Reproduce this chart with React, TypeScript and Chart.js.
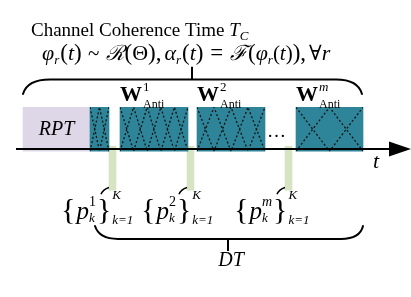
import { useEffect, useRef } from 'react';
import { Chart, registerables } from 'chart.js';
Chart.register(...registerables);

// Time slots along the coherence interval (time units)
const blockNames = ['RPT', 'Pilot', 'W1', 'W2', 'Wm'];
const blockStart = [23, 90, 120, 197, 296];
const blockEnd = [90, 109, 188, 265, 363];
const blockRow = [126, 126, 126, 126, 126];
const hatchHalfPeriod = [0, 9.5, 13.6, 17, 33.5];
const wSuperscripts = ['1', '2', 'm'];
const wBlockIndex = [2, 3, 4];
// Data transmission markers
const dtStart = [109, 187, 285];
const dtEnd = [116, 194, 292];
const dtRow = [171.5, 171.5, 171.5];

const TEAL = 'rgb(46,132,152)';
const LAVENDER = 'rgb(221,215,231)';
const GREEN = 'rgb(214,228,196)';
const SERIF = "'Liberation Serif', 'DejaVu Serif', serif";
const R = (s: number) => `${s}px ${SERIF}`;
const I = (s: number) => `italic ${s}px ${SERIF}`;
const B = (s: number) => `bold ${s}px ${SERIF}`;

type Run = { t?: string; f?: string; dy?: number; dx?: number; sup?: Run; sub?: Run };

function drawRuns(ctx: CanvasRenderingContext2D, x: number, y: number, runs: Run[]) {
  let cx = x;
  for (const r of runs) {
    cx += r.dx || 0;
    if (r.sup || r.sub) {
      let w = 0;
      for (const p of [r.sup, r.sub]) {
        if (!p) continue;
        ctx.font = p.f!;
        ctx.fillText(p.t!, cx + (p.dx || 0), y + (p.dy || 0));
        w = Math.max(w, ctx.measureText(p.t!).width + (p.dx || 0));
      }
      cx += w;
    } else {
      ctx.font = r.f!;
      ctx.fillText(r.t!, cx, y + (r.dy || 0));
      cx += ctx.measureText(r.t!).width;
    }
  }
  return cx;
}

const diagramPlugin = {
  id: 'diagram',
  afterDatasetsDraw(chart: any) {
    const ctx: CanvasRenderingContext2D = chart.ctx;
    const xs = chart.scales.x;
    const ys = chart.scales.y;
    const px = (v: number) => xs.getPixelForValue(v);
    const py = (v: number) => ys.getPixelForValue(v);
    ctx.save();
    ctx.fillStyle = '#000';
    ctx.strokeStyle = '#000';
    ctx.textBaseline = 'alphabetic';

    // hatching on the blocks
    const meta = chart.getDatasetMeta(0);
    meta.data.forEach((el: any, i: number) => {
      const h = hatchHalfPeriod[i];
      if (!h) return;
      const p = el.getProps(['x', 'base', 'y', 'height'], true);
      const x0 = Math.min(p.x, p.base), x1 = Math.max(p.x, p.base);
      const yT = p.y - p.height / 2, yB = p.y + p.height / 2;
      const hp = px(blockStart[i] + h) - px(blockStart[i]);
      ctx.save();
      ctx.beginPath();
      ctx.rect(x0, yT, x1 - x0, yB - yT);
      ctx.clip();
      ctx.setLineDash([2, 2.2]);
      ctx.lineWidth = 1.3;
      ctx.strokeStyle = '#111';
      for (const phase of [0, 1]) {
        ctx.beginPath();
        let k = 0;
        for (let xx = x0; xx <= x1 + hp; xx += hp, k++) {
          const yy = (k + phase) % 2 === 0 ? yT : yB;
          if (k === 0) ctx.moveTo(xx, yy); else ctx.lineTo(xx, yy);
        }
        ctx.stroke();
      }
      ctx.restore();
    });

    // time axis with arrow
    const axisY = py(149);
    ctx.lineWidth = 2;
    ctx.beginPath();
    ctx.moveTo(px(16), axisY);
    ctx.lineTo(px(395), axisY);
    ctx.stroke();
    ctx.beginPath();
    ctx.moveTo(px(411), axisY);
    ctx.lineTo(px(389), axisY - 7.5);
    ctx.lineTo(px(389), axisY + 7.5);
    ctx.closePath();
    ctx.fill();

    // top brace
    ctx.lineWidth = 2;
    ctx.lineCap = 'round';
    ctx.beginPath();
    ctx.moveTo(px(23), py(85));
    ctx.quadraticCurveTo(px(27), py(68), px(50), py(68));
    ctx.lineTo(px(336), py(68));
    ctx.quadraticCurveTo(px(358), py(68), px(362), py(85));
    ctx.stroke();
    ctx.lineCap = 'butt';
    ctx.beginPath();
    ctx.moveTo(px(192), py(68));
    ctx.lineTo(px(192), py(53));
    ctx.stroke();

    // bottom brace
    ctx.lineCap = 'round';
    ctx.beginPath();
    ctx.moveTo(px(95), py(239));
    ctx.quadraticCurveTo(px(99), py(254), px(118), py(254));
    ctx.lineTo(px(341), py(254));
    ctx.quadraticCurveTo(px(360), py(254), px(363), py(239));
    ctx.stroke();
    ctx.lineCap = 'butt';
    ctx.beginPath();
    ctx.moveTo(px(228), py(254));
    ctx.lineTo(px(228), py(268));
    ctx.stroke();

    // hooks from the DT markers to the sets
    ctx.lineWidth = 1.4;
    dtStart.forEach((s) => {
      ctx.beginPath();
      ctx.moveTo(px(s - 8), py(202));
      ctx.quadraticCurveTo(px(s - 6), py(196), px(s), py(194));
      ctx.stroke();
    });

    // Title
    drawRuns(ctx, px(31), py(17), [
      { t: 'Channel Coherence Time ', f: R(19) },
      { t: 'T', f: I(19) },
      { t: 'C', f: I(13), dy: 4 },
    ]);

    // Equation
    drawRuns(ctx, px(42), py(45), [
      { t: 'φ', f: I(22) },
      { t: 'r', f: I(13), dy: 4 },
      { t: '(', f: R(23), dx: 1 },
      { t: 't', f: I(22) },
      { t: ')', f: R(23) },
      { t: ' ~ ', f: R(21), dx: 1 },
      { t: 'ℛ', f: I(21), dx: 1 },
      { t: '(', f: R(23), dx: 1 },
      { t: 'Θ', f: R(22) },
      { t: '),', f: R(23) },
      { t: 'α', f: I(22), dx: 3 },
      { t: 'r', f: I(13), dy: 4 },
      { t: '(', f: R(23), dx: 1 },
      { t: 't', f: I(22) },
      { t: ')', f: R(23) },
      { t: ' = ', f: R(23), dx: 1 },
      { t: 'ℱ', f: I(21), dx: 1 },
      { t: '(', f: R(23), dx: 1 },
      { t: 'φ', f: I(22) },
      { t: 'r', f: I(13), dy: 4 },
      { t: '(', f: R(21) },
      { t: 't', f: I(21) },
      { t: ')', f: R(21) },
      { t: '),', f: R(23) },
      { t: '∀', f: R(21), dx: 3 },
      { t: 'r', f: I(22) },
    ]);

    // W labels
    wBlockIndex.forEach((bi, j) => {
      const sup = wSuperscripts[j];
      drawRuns(ctx, px(blockStart[bi]), py(93), [
        { t: 'W', f: B(22) },
        {
          dx: 1,
          sup: { t: sup, f: sup === 'm' ? I(13) : R(13), dy: -10 },
          sub: { t: 'Anti', f: R(12), dy: 7 },
        },
      ]);
    });

    // RPT
    ctx.textAlign = 'center';
    ctx.font = I(20);
    ctx.fillText(blockNames[0], (px(blockStart[0]) + px(blockEnd[0])) / 2, py(133));
    ctx.textAlign = 'left';

    // ellipsis
    ctx.font = R(19);
    ctx.fillText('…', px(267), py(135));

    // t label
    ctx.font = I(22);
    ctx.fillText('t', px(373), py(171));

    // Sets
    const setX = [61, 141, 234];
    wSuperscripts.forEach((sup, j) => {
      drawRuns(ctx, px(setX[j]), py(231), [
        { t: '{', f: R(30), dy: 0 },
        { t: 'p', f: I(25), dx: 1 },
        {
          dx: 0,
          sup: { t: sup, f: sup === 'm' ? I(14) : R(14), dy: -13 },
          sub: { t: 'k', f: I(13), dy: 3 },
        },
        { t: '}', f: R(30), dy: 0, dx: 1 },
        {
          dx: 1,
          sup: { t: 'K', f: I(13), dy: -20 },
          sub: { t: 'k=1', f: I(13), dy: 5 },
        },
      ]);
    });

    // DT
    ctx.textAlign = 'center';
    ctx.font = I(20);
    ctx.fillText('DT', px(231), py(285));
    ctx.restore();
  },
};

export default function App() {
  const ref = useRef<HTMLCanvasElement | null>(null);
  useEffect(() => {
    if (!ref.current) return;
    const blockColors = blockNames.map((n) => (n === 'RPT' ? LAVENDER : TEAL));
    const chart = new Chart(ref.current, {
      type: 'bar',
      data: {
        datasets: [
          {
            label: 'Slots',
            data: blockStart.map((s, i) => ({ x: [s, blockEnd[i]], y: blockRow[i] })) as any,
            backgroundColor: blockColors,
            borderWidth: 0,
            barThickness: 44,
            stack: 'row',
          },
          {
            label: 'DT',
            data: dtStart.map((s, i) => ({ x: [s, dtEnd[i]], y: dtRow[i] })) as any,
            backgroundColor: GREEN,
            borderWidth: 0,
            barThickness: 44,
            stack: 'row',
          },
        ],
      },
      options: {
        indexAxis: 'y',
        responsive: false,
        animation: false,
        layout: { padding: 0 },
        scales: {
          x: { type: 'linear', min: 0, max: 411, display: false },
          y: { type: 'linear', min: 0, max: 297, reverse: true, display: false },
        },
        plugins: { legend: { display: false }, tooltip: { enabled: false } },
      },
      plugins: [diagramPlugin],
    });
    return () => chart.destroy();
  }, []);
  return (
    <div style={{ position: 'fixed', left: 0, top: 0, width: 411, height: 297, background: '#fff' }}>
      <canvas ref={ref} width={411} height={297} style={{ display: 'block' }} />
    </div>
  );
}
